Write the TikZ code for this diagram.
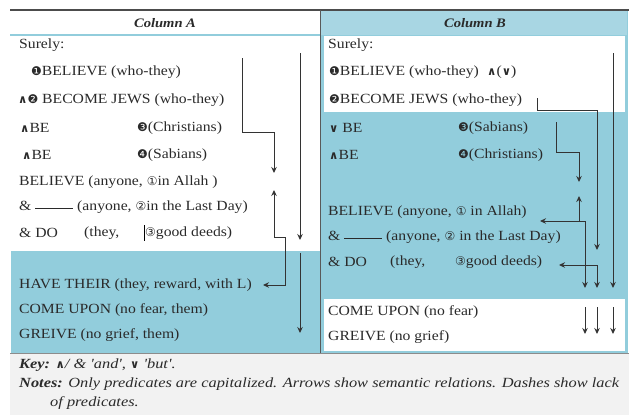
\documentclass[tikz,border=0pt]{standalone}
\usepackage{fontspec}
\setmainfont[FakeStretch=1.12]{Liberation Serif}
\newfontfamily\keyfont[FakeStretch=1.17]{Liberation Serif}
\newfontfamily\sym{DejaVu Sans}
\usetikzlibrary{arrows.meta}
\definecolor{tblue}{HTML}{92CDDC}
\definecolor{hblue}{HTML}{A8D6E3}
\definecolor{keybg}{HTML}{F2F2F2}
\definecolor{lin}{HTML}{333333}
\definecolor{txtc}{HTML}{2A2A2A}
\newcommand{\wedgeS}{{\sym\bfseries\fontsize{11.5}{10}\selectfont ∧}}
\newcommand{\veeS}{{\sym\bfseries\fontsize{11.5}{10}\selectfont ∨}}
\newcommand{\nS}[1]{{\sym\fontsize{12}{10}\selectfont #1}}
\newcommand{\dashline}{\rule[0.32ex]{38pt}{0.5pt}}
\begin{document}
\begin{tikzpicture}[x=1pt,y=-1pt,
  txt/.style={anchor=west,inner sep=0pt,text=txtc,font=\fontsize{14}{16}\selectfont},
  hdr/.style={anchor=center,inner sep=0pt,text=txtc,font=\fontsize{13}{15}\selectfont\bfseries\itshape},
  keyt/.style={anchor=west,inner sep=0pt,text=txtc,font=\keyfont\fontsize{14}{16}\selectfont\itshape},
  arr/.style={draw=lin,line width=0.9pt,-{Stealth[length=6pt,width=5.5pt]}},
  arrb/.style={draw=lin,line width=0.9pt,{Stealth[length=6pt,width=5.5pt]}-{Stealth[length=6pt,width=5.5pt]}},
  ln/.style={draw=lin,line width=0.9pt}]
\useasboundingbox (0,0) rectangle (629,415);
\fill[white] (0,0) rectangle (629,415);
% key background
\fill[keybg] (10,354) rectangle (629,415);
% column A blue area
\fill[tblue] (11,251) rectangle (320,353);
% column B
\fill[tblue] (320,10) rectangle (628,353);
\fill[hblue] (321,11) rectangle (627,35);
\fill[white] (324,36) rectangle (625,112);
\fill[white] (324,299) rectangle (625,351);
% lines
\draw[tblue,line width=1.5pt] (10,35) -- (320,35);
\draw[black!70,line width=1.5pt] (10,10) -- (629,10);
\draw[black!65,line width=1pt] (320,10) -- (320,353);
\draw[black!45,line width=1pt] (10,353.5) -- (629,353.5);
% headers
\node[hdr] (ha) at (165,23) {Column A};
\node[hdr] (hb) at (475,23) {Column B};
% column A
\node[txt] (a0) at (19,45) {Surely:};
\node[txt] (a1) at (31,72) {\nS{❶}BELIEVE (who-they)};
\node[txt] (a2) at (18,100) {\wedgeS\nS{❷} BECOME JEWS (who-they)};
\node[txt] (a3) at (20,128) {\wedgeS BE};
\node[txt] (a3b) at (137,128) {\nS{❸}(Christians)};
\node[txt] (a4) at (22,155) {\wedgeS BE};
\node[txt] (a4b) at (137,155) {\nS{❹}(Sabians)};
\node[txt] (a5) at (19,182) {BELIEVE (anyone, \nS{①}in Allah )};
\node[txt] (a6) at (19,207) {\& \dashline\ (anyone, \nS{②}in the Last Day)};
\node[txt] (a7) at (19,233) {\& DO};
\node[txt] (a7b) at (84,233) {(they,};
\node[txt] (a7c) at (145,233) {\nS{③}good deeds)};
\draw[black,line width=1pt] (144,225) -- (144,241);
\node[txt] (a8) at (19,285) {HAVE THEIR (they, reward, with L)};
\node[txt] (a9) at (19,310) {COME UPON (no fear, them)};
\node[txt] (a10) at (19,335) {GREIVE (no grief, them)};
% column B
\node[txt] (b0) at (328,45) {Surely:};
\node[txt] (b1) at (329,72) {\nS{❶}BELIEVE (who-they)};
\node[txt] (b1b) at (487,72) {\wedgeS(\veeS)};
\node[txt] (b2) at (329,100) {\nS{❷}BECOME JEWS (who-they)};
\node[txt] (b3) at (329,128) {\veeS\ BE};
\node[txt] (b3b) at (458,128) {\nS{❸}(Sabians)};
\node[txt] (b4) at (329,155) {\wedgeS BE};
\node[txt] (b4b) at (458,155) {\nS{❹}(Christians)};
\node[txt] (b5) at (328,212) {BELIEVE (anyone, \nS{①} in Allah)};
\node[txt] (b6) at (328,237) {\& \dashline\ (anyone, \nS{②} in the Last Day)};
\node[txt] (b7) at (328,262) {\& DO};
\node[txt] (b7b) at (390,262) {(they,};
\node[txt] (b7c) at (455,262) {\nS{③}good deeds)};
\node[txt] (b8) at (328,312) {COME UPON (no fear)};
\node[txt] (b9) at (328,337) {GREIVE (no grief)};
% key
\node[keyt] (k1) at (19,365) {\textbf{Key:} \wedgeS/ \& 'and', \veeS\ 'but'.};
\node[keyt] (k2) at (19,384) {\textbf{Notes:} Only predicates are capitalized. Arrows show semantic relations. Dashes show lack};
\node[keyt] (k3) at (50,403) {of predicates.};
% arrow coordinates column A
\coordinate (pa1) at (242,58);
\coordinate (pa2) at (274,173);
\coordinate (pa3) at (274,190);
\coordinate (pa4) at (263,285);
\coordinate (pa5) at (300,53);
\coordinate (pa6) at (300,240);
\coordinate (pa7) at (300,253);
\coordinate (pa8) at (300,333);
\draw[arr] (pa1) -- (242,132) -| (pa2);
\draw[arrb] (pa3) -- (274,237) -- (285,237) |- (pa4);
\draw[arr] (pa5) -- (pa6);
\draw[arr] (pa7) -- (pa8);
% arrow coordinates column B
\coordinate (pb1) at (537,98);
\coordinate (pb2) at (597,250);
\coordinate (pb3) at (556,122);
\coordinate (pb4) at (579,182);
\coordinate (pb5) at (579,196);
\coordinate (pb6) at (585,288);
\coordinate (pb7) at (540,221);
\coordinate (pb8) at (559,265);
\coordinate (pb9) at (597,288);
\coordinate (pb10) at (613,53);
\coordinate (pb11) at (613,288);
\draw[arr] (pb1) -- (537,110) -| (pb2);
\draw[arr] (pb3) -- (556,152) -| (pb4);
\draw[arrb] (pb5) -- (579,221) -- (585,221) -- (pb6);
\draw[arr] (579,221) -- (pb7);
\draw[arrb] (pb8) -| (pb9);
\draw[arr] (pb10) -- (pb11);
\foreach \x/\n in {585/c1,597/c2,613/c3}{
  \coordinate (\n s) at (\x,307);
  \coordinate (\n e) at (\x,334);
  \draw[arr] (\n s) -- (\n e);
}
\end{tikzpicture}
\end{document}
